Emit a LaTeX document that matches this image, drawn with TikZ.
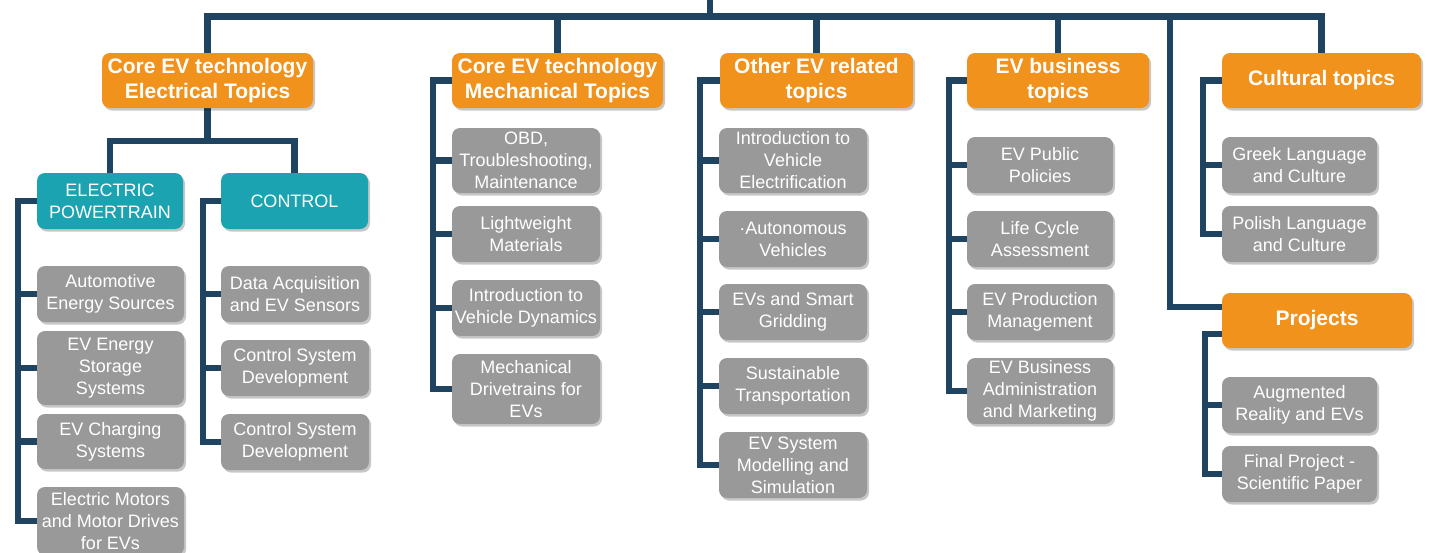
\documentclass[tikz,border=0pt]{standalone}
\usepackage{fontspec}
\setmainfont{Liberation Sans}
\usetikzlibrary{shadows,backgrounds}

\definecolor{navy}{HTML}{1E4461}
\definecolor{orangeH}{HTML}{F0921C}
\definecolor{tealH}{HTML}{1BA3B1}
\definecolor{greyH}{HTML}{999999}

\tikzset{
  conn/.style={draw=navy, line width=6.5pt},
  boxbase/.style={rounded corners=8pt, inner sep=0pt, align=center, text=white,
    drop shadow={shadow xshift=2pt, shadow yshift=-2.5pt, fill=black, opacity=0.22}},
  head/.style={boxbase, fill=orangeH, font=\bfseries\fontsize{21}{25}\selectfont},
  sub/.style={boxbase, fill=tealH, font=\fontsize{18}{22}\selectfont},
  leaf/.style={boxbase, fill=greyH, font=\fontsize{18}{22}\selectfont},
}

\begin{document}
\begin{tikzpicture}[x=1pt, y=-1pt]
\useasboundingbox (0,0) rectangle (1430,552);

% ---- main headings
\node[head, minimum width=211pt, minimum height=55pt] (elec) at (207.5,80.5) {Core EV technology\\Electrical Topics};
\node[head, minimum width=211pt, minimum height=55pt] (mech) at (557.5,80.5) {Core EV technology\\Mechanical Topics};
\node[head, minimum width=193pt, minimum height=55pt] (other) at (816.5,80.5) {Other EV related\\topics};
\node[head, minimum width=182pt, minimum height=55pt] (bus) at (1058,80.5) {EV business\\topics};
\node[head, minimum width=199pt, minimum height=55pt] (cult) at (1321.5,80.5) {Cultural topics};
\node[head, minimum width=190pt, minimum height=55pt] (proj) at (1317,320.5) {Projects};

% ---- electrical sub-areas
\node[sub, minimum width=146pt, minimum height=56pt] (ep) at (110,201) {ELECTRIC\\POWERTRAIN};
\node[sub, minimum width=147pt, minimum height=56pt] (ctrl) at (294.5,201) {CONTROL};

% ---- electric powertrain courses
\node[leaf, minimum width=147pt, minimum height=56pt] (a1) at (110.5,294) {Automotive\\Energy Sources};
\node[leaf, minimum width=147pt, minimum height=74pt] (a2) at (110.5,368) {EV Energy\\Storage\\Systems};
\node[leaf, minimum width=147pt, minimum height=55pt] (a3) at (110.5,441.5) {EV Charging\\Systems};
\node[leaf, minimum width=147pt, minimum height=68pt] (a4) at (110.5,521) {Electric Motors\\and Motor Drives\\for EVs};

% ---- control courses
\node[leaf, minimum width=148pt, minimum height=56pt] (c1) at (295,294) {Data Acquisition\\and EV Sensors};
\node[leaf, minimum width=148pt, minimum height=56pt] (c2) at (295,368) {Control System\\Development};
\node[leaf, minimum width=148pt, minimum height=56pt] (c3) at (295,442) {Control System\\Development};

% ---- mechanical courses
\node[leaf, minimum width=148pt, minimum height=65pt] (m1) at (526,160.5) {OBD,\\Troubleshooting,\\Maintenance};
\node[leaf, minimum width=148pt, minimum height=56pt] (m2) at (526,234) {Lightweight\\Materials};
\node[leaf, minimum width=148pt, minimum height=56pt] (m3) at (526,308) {Introduction to\\Vehicle Dynamics};
\node[leaf, minimum width=148pt, minimum height=70pt] (m4) at (526,389) {Mechanical\\Drivetrains for\\EVs};

% ---- other EV courses
\node[leaf, minimum width=148pt, minimum height=65pt] (o1) at (793,160.5) {Introduction to\\Vehicle\\Electrification};
\node[leaf, minimum width=148pt, minimum height=56pt] (o2) at (793,239) {·Autonomous\\Vehicles};
\node[leaf, minimum width=148pt, minimum height=56pt] (o3) at (793,312) {EVs and Smart\\Gridding};
\node[leaf, minimum width=148pt, minimum height=56pt] (o4) at (793,386) {Sustainable\\Transportation};
\node[leaf, minimum width=148pt, minimum height=66pt] (o5) at (793,465) {EV System\\Modelling and\\Simulation};

% ---- business courses
\node[leaf, minimum width=146pt, minimum height=56pt] (b1) at (1040,165) {EV Public\\Policies};
\node[leaf, minimum width=146pt, minimum height=56pt] (b2) at (1040,239) {Life Cycle\\Assessment};
\node[leaf, minimum width=146pt, minimum height=56pt] (b3) at (1040,312) {EV Production\\Management};
\node[leaf, minimum width=146pt, minimum height=66pt] (b4) at (1040,391) {EV Business\\Administration\\and Marketing};

% ---- cultural courses
\node[leaf, minimum width=155pt, minimum height=56pt] (g1) at (1299.5,165) {Greek Language\\and Culture};
\node[leaf, minimum width=155pt, minimum height=56pt] (g2) at (1299.5,234) {Polish Language\\and Culture};

% ---- project courses
\node[leaf, minimum width=155pt, minimum height=56pt] (p1) at (1299.5,405) {Augmented\\Reality and EVs};
\node[leaf, minimum width=155pt, minimum height=56pt] (p2) at (1299.5,474) {Final Project -\\Scientific Paper};

% ---- junction points
\coordinate (top) at (710,16.5);
\coordinate (root) at (710,-4);
\coordinate (eJ) at (207.5,141);
\coordinate (epT) at (18,201);
\coordinate (ctT) at (203,201);
\coordinate (mT) at (433,80.5);
\coordinate (oT) at (700,80.5);
\coordinate (bT) at (949,80.5);
\coordinate (gT) at (1203,80.5);
\coordinate (pT) at (1205,334);
\coordinate (pS) at (1170,307);

\begin{scope}[on background layer]
% top level bar
\draw[conn] (root) -- (top);
\draw[conn] (elec.north) |- (top) -| (cult.north);
\draw[conn] (mech.north) -- (mech.north |- top);
\draw[conn] (other.north) -- (other.north |- top);
\draw[conn] (bus.north) -- (bus.north |- top);
\draw[conn] (pS |- top) -- (pS) -- (pS -| proj.west);

% electrical split
\draw[conn] (elec.south) -- (eJ);
\draw[conn] (ep.north) |- (eJ) -| (ctrl.north);

% side trunks
\draw[conn] (ep.west) -- (epT) |- (a4.west);
\foreach \n in {a1,a2,a3} \draw[conn] (epT) |- (\n.west);
\draw[conn] (ctrl.west) -- (ctT) |- (c3.west);
\foreach \n in {c1,c2} \draw[conn] (ctT) |- (\n.west);
\draw[conn] (mech.west) -- (mT) |- (m4.west);
\foreach \n in {m1,m2,m3} \draw[conn] (mT) |- (\n.west);
\draw[conn] (other.west) -- (oT) |- (o5.west);
\foreach \n in {o1,o2,o3,o4} \draw[conn] (oT) |- (\n.west);
\draw[conn] (bus.west) -- (bT) |- (b4.west);
\foreach \n in {b1,b2,b3} \draw[conn] (bT) |- (\n.west);
\draw[conn] (cult.west) -- (gT) |- (g2.west);
\draw[conn] (gT) |- (g1.west);
\draw[conn] (pT -| proj.west) -- (pT) |- (p2.west);
\draw[conn] (pT) |- (p1.west);
\end{scope}
\end{tikzpicture}
\end{document}
